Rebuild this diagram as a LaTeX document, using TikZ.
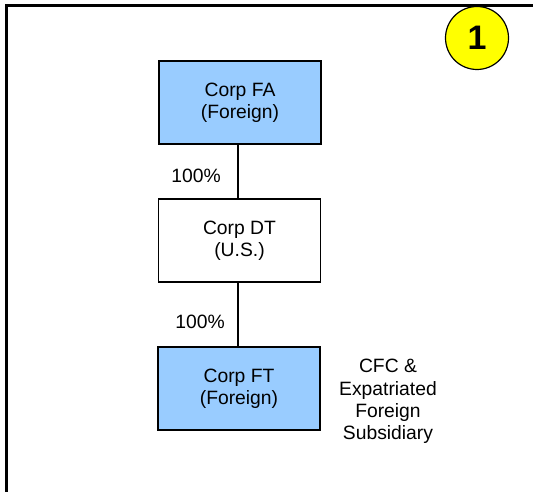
\documentclass[tikz,border=0pt]{standalone}
\usepackage{fontspec}
\setmainfont{Liberation Sans}
\definecolor{boxblue}{HTML}{99CCFF}
\definecolor{badge}{HTML}{FFFF00}
\begin{document}
\begin{tikzpicture}[x=1pt,y=-1pt,
  corpbox/.style={draw=black,line width=1.4pt,minimum width=162pt,minimum height=83pt,inner sep=0pt,align=center,font=\fontsize{19.3}{22.3}\selectfont},
  lbl/.style={inner sep=0pt,align=center,font=\fontsize{19.3}{22.3}\selectfont},
  link/.style={line width=1.6pt}]
\useasboundingbox (0,0) rectangle (533,492);
\fill[white] (0,0) rectangle (533,492);
\draw[line width=2.7pt] (6.5,492) -- (6.5,5.5) -- (533,5.5);
\node[draw=black,line width=1.2pt,fill=badge,circle,minimum size=63pt,inner sep=0pt,font=\fontsize{34}{38}\selectfont\bfseries] (badge) at (477,38) {1};
\node[corpbox,fill=boxblue] (fa) at (240,102.5) {Corp FA\\(Foreign)};
\node[corpbox,fill=white] (dt) at (239.5,240.5) {Corp DT\\(U.S.)};
\node[corpbox,fill=boxblue] (ft) at (239,388.5) {Corp FT\\(Foreign)};
\draw[link] (fa.south -| 238,0) -- (dt.north -| 238,0);
\draw[link] (dt.south -| 238,0) -- (ft.north -| 238,0);
\node[lbl] (p1) at (196,176) {100\%};
\node[lbl] (p2) at (200,322) {100\%};
\node[lbl] (cfc) at (388,401.5) {CFC \&\\Expatriated\\Foreign\\Subsidiary};
\end{tikzpicture}
\end{document}
